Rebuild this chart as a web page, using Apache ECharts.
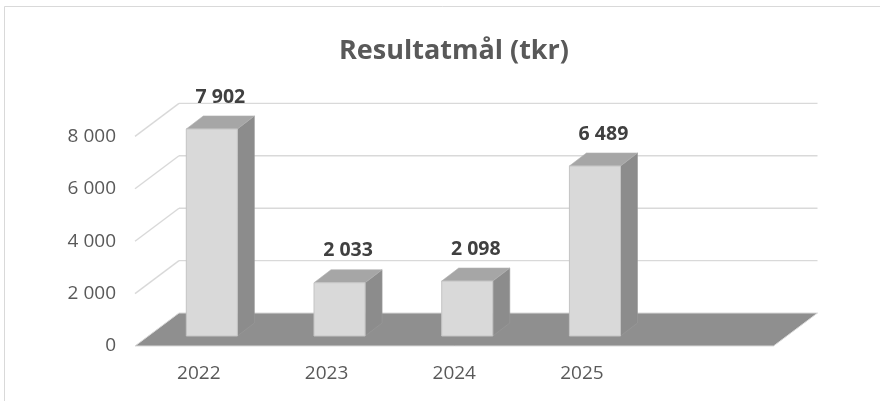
<!DOCTYPE html>
<html>
<head>
<meta charset="utf-8">
<script src="https://cdn.jsdelivr.net/npm/echarts@6/dist/echarts.min.js"></script>
<style>
    html, body { margin: 0; padding: 0; background: #fff; }
    #chart { width: 880px; height: 401px; }
</style>
</head>
<body>
<div id="chart"></div>
<script>
    // chart data
    var years = ['2022', '2023', '2024', '2025', ''];
    var values = [7902, 2033, 2098, 6489];
    var yTicks = [0, 2000, 4000, 6000, 8000];

    // oblique "3D" offsets, in px, from the front floor plane
    var BAR_SHIFT = [13, -10];   // front face of the bars
    var BAR_DEPTH = [17, -13];   // depth of one bar
    var BACK = [44, -33];        // back wall
    var FONT = '"Open Sans", "Liberation Sans", sans-serif';

    function fmt(v) {
        return String(v).replace(/\B(?=(\d{3})+(?!\d))/g, ' ');
    }

    function renderWall(params, api) {
        var cs = params.coordSys;
        var v = api.value(1);
        var p = api.coord([0, v]);
        var left = cs.x, right = cs.x + cs.width, y = p[1];
        if (v === 0) {
            return {
                type: 'polygon',
                shape: { points: [[left, y], [right, y], [right + BACK[0], y + BACK[1]], [left + BACK[0], y + BACK[1]]] },
                style: { fill: '#8f8f8f', stroke: '#d9d9d9', lineWidth: 1 }
            };
        }
        var line = { stroke: '#d9d9d9', lineWidth: 1.4 };
        return {
            type: 'group',
            children: [
                { type: 'line', shape: { x1: left, y1: y, x2: left + BACK[0], y2: y + BACK[1] }, style: line },
                { type: 'line', shape: { x1: left + BACK[0], y1: y + BACK[1], x2: right + BACK[0], y2: y + BACK[1] }, style: line }
            ]
        };
    }

    function renderBar(params, api) {
        var top = api.coord([api.value(0), api.value(1)]);
        var base = api.coord([api.value(0), 0]);
        var band = api.size([1, 0])[0];
        var w = band * 0.4;
        var x = top[0] + BAR_SHIFT[0] - w / 2;
        var yt = top[1] + BAR_SHIFT[1];
        var yb = base[1] + BAR_SHIFT[1];
        var dx = BAR_DEPTH[0], dy = BAR_DEPTH[1];
        return {
            type: 'group',
            children: [
                {
                    type: 'polygon',
                    shape: { points: [[x + w, yt], [x + w + dx, yt + dy], [x + w + dx, yb + dy], [x + w, yb]] },
                    style: { fill: '#8c8c8c', stroke: '#9a9a9a', lineWidth: 0.6 }
                },
                {
                    type: 'polygon',
                    shape: { points: [[x, yt], [x + dx, yt + dy], [x + w + dx, yt + dy], [x + w, yt]] },
                    style: { fill: '#a6a6a6', stroke: '#b0b0b0', lineWidth: 0.6 }
                },
                {
                    type: 'rect',
                    shape: { x: x, y: yt, width: w, height: yb - yt },
                    style: { fill: '#d9d9d9', stroke: '#c4c4c4', lineWidth: 1 }
                },
                {
                    type: 'text',
                    x: x + w / 2 + dx / 2,
                    y: yt + dy - 19,
                    style: {
                        text: fmt(api.value(1)),
                        align: 'center',
                        verticalAlign: 'middle',
                        fill: '#404040',
                        font: 'bold 19.5px ' + FONT
                    }
                }
            ]
        };
    }

    var chart = echarts.init(document.getElementById('chart'));
    chart.setOption({
        animation: false,
        backgroundColor: '#fff',
        title: {
            text: 'Resultatmål (tkr)',
            left: 449,
            top: 33,
            textAlign: 'center',
            textStyle: { fontFamily: FONT, fontSize: 27, fontWeight: 'bold', color: '#595959' }
        },
        graphic: [{
            type: 'rect',
            shape: { x: 4.5, y: 6.5, width: 900, height: 420 },
            style: { fill: null, stroke: '#d9d9d9', lineWidth: 1 },
            silent: true
        }],
        grid: { left: 135, right: 106.5, top: 136.4, bottom: 55 },
        xAxis: {
            type: 'category',
            data: years,
            axisLine: { show: false },
            axisTick: { show: false },
            axisLabel: { color: '#595959', fontSize: 19, fontFamily: FONT, margin: 18 }
        },
        yAxis: {
            type: 'value',
            min: 0,
            max: 8000,
            interval: 2000,
            splitLine: { show: false },
            axisLine: { show: false },
            axisTick: { show: false },
            axisLabel: { color: '#595959', fontSize: 19, fontFamily: FONT, margin: 19, formatter: fmt }
        },
        series: [
            {
                type: 'custom',
                name: 'wall',
                renderItem: renderWall,
                data: yTicks.map(function (t) { return [0, t]; }),
                z: 1,
                silent: true
            },
            {
                type: 'custom',
                name: 'Resultatmål',
                renderItem: renderBar,
                data: values.map(function (v, i) { return [i, v]; }),
                z: 2
            }
        ]
    });
</script>
</body>
</html>
